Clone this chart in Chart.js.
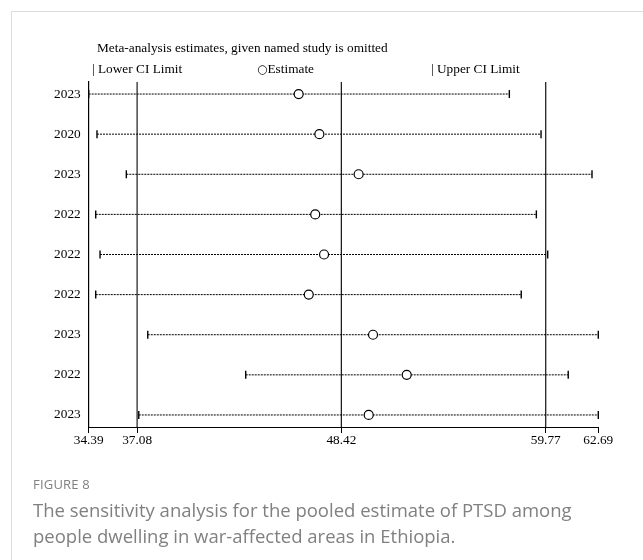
<!DOCTYPE html>
<html>
<head>
<meta charset="utf-8">
<script src="https://cdn.jsdelivr.net/npm/chart.js@4.4.0/dist/chart.umd.min.js"></script>
<style>
  html, body { margin:0; padding:0; background:#fff; }
  #wrap { position:relative; width:643px; height:560px; overflow:hidden; }
  #frame { position:absolute; left:11px; top:11px; width:640px; height:560px; border-top:1px solid #dcdcdc; border-left:1px solid #dcdcdc; }
  canvas { position:absolute; left:0; top:0; }
  .serif { position:absolute; font-family:"Liberation Serif","Times New Roman",serif; font-size:13.3px; color:#000; white-space:nowrap; line-height:1; }
  .cap { position:absolute; font-family:"Open Sans",sans-serif; color:#808080; white-space:nowrap; }
</style>
</head>
<body>
<div id="wrap">
  <div id="frame"></div>
  <canvas id="c" width="643" height="560"></canvas>
  <div class="serif" style="left:97px; top:41px;">Meta-analysis estimates, given named study is omitted</div>
  <div class="serif" style="left:92px; top:62px;">| Lower CI Limit</div>
  <div class="serif" style="left:257px; top:62px;"><span style="font-size:12px;font-family:'DejaVu Sans',sans-serif;">○</span>Estimate</div>
  <div class="serif" style="left:431px; top:62px;">| Upper CI Limit</div>
  <div class="cap" style="left:33px; top:475px; font-size:13px; letter-spacing:0.2px;">FIGURE 8</div>
  <div class="cap" style="left:33px; top:497px; font-size:18.5px; line-height:26px;">The sensitivity analysis for the pooled estimate of PTSD among<br>people dwelling in war-affected areas in Ethiopia.</div>
</div>
<script>
const studyYears = ["2023","2020","2023","2022","2022","2022","2023","2022","2023"];
const lowerCI   = [34.39, 34.85, 36.48, 34.78, 35.02, 34.78, 37.67, 43.11, 37.17];
const estimate  = [46.05, 47.20, 49.38, 46.97, 47.46, 46.61, 50.18, 52.05, 49.94];
const upperCI   = [57.75, 59.51, 62.34, 59.25, 59.88, 58.41, 62.69, 61.02, 62.69];
const xTickValues = [34.39, 37.08, 48.42, 59.77, 62.69];
const pooledLower = 37.08, pooledEstimate = 48.42, pooledUpper = 59.77;

const Y_MIN = -0.3, Y_MAX = 8.3;

const datasets = [];
datasets.push({
  type:'scatter', order:0, clip:false,
  data: estimate.map((v,i)=>({x:v,y:i})),
  pointStyle:'circle', pointRadius:4.5, pointBackgroundColor:'#fff',
  pointBorderColor:'#000', pointBorderWidth:1.2
});
datasets.push({
  type:'scatter', order:1, clip:false,
  data: lowerCI.map((v,i)=>({x:v,y:i})).concat(upperCI.map((v,i)=>({x:v,y:i}))),
  pointStyle:'line', rotation:90, pointRadius:4,
  pointBorderColor:'#000', pointBorderWidth:1.4
});
studyYears.forEach((_,i)=>{
  datasets.push({
    type:'line', order:2, clip:false,
    data:[{x:lowerCI[i],y:i},{x:upperCI[i],y:i}],
    borderColor:'#000', borderWidth:1, borderDash:[2,1], pointRadius:0, fill:false
  });
});
[[pooledLower,'#555',1.6],[pooledEstimate,'#111',1.2],[pooledUpper,'#111',1.2]].forEach(([v,c,w])=>{
  datasets.push({
    type:'line', order:3, clip:false,
    data:[{x:v,y:Y_MIN},{x:v,y:Y_MAX}],
    borderColor:c, borderWidth:w, pointRadius:0, fill:false
  });
});

const serifFont = {family:'"Liberation Serif","Times New Roman",serif', size:13.3};

new Chart(document.getElementById('c'), {
  type:'scatter',
  data:{datasets},
  options:{
    responsive:false, animation:false,
    layout:{padding:{left:0, right:44.7, top:82, bottom:0}},
    plugins:{legend:{display:false}, tooltip:{enabled:false}, title:{display:false}},
    scales:{
      x:{
        type:'linear', min:xTickValues[0], max:xTickValues[xTickValues.length-1],
        afterBuildTicks: s => { s.ticks = xTickValues.map(v=>({value:v})); },
        afterFit: s => { s.height = 133; },
        ticks:{ autoSkip:false, maxRotation:0, color:'#000', font:serifFont, padding:0,
                callback: v => v.toFixed(2) },
        grid:{ drawOnChartArea:false, drawTicks:true, tickLength:6, color:'#000', lineWidth:1 },
        border:{ display:true, color:'#000', width:1 }
      },
      y:{
        type:'linear', reverse:true, min:Y_MIN, max:Y_MAX,
        afterBuildTicks: s => { s.ticks = studyYears.map((_,i)=>({value:i})); },
        afterFit: s => { s.width = 88.7; },
        ticks:{ autoSkip:false, color:'#000', font:serifFont, padding:8,
                callback: v => studyYears[v] },
        grid:{ drawOnChartArea:false, drawTicks:false },
        border:{ display:true, color:'#000', width:1.2 }
      }
    }
  }
});
</script>
</body>
</html>
